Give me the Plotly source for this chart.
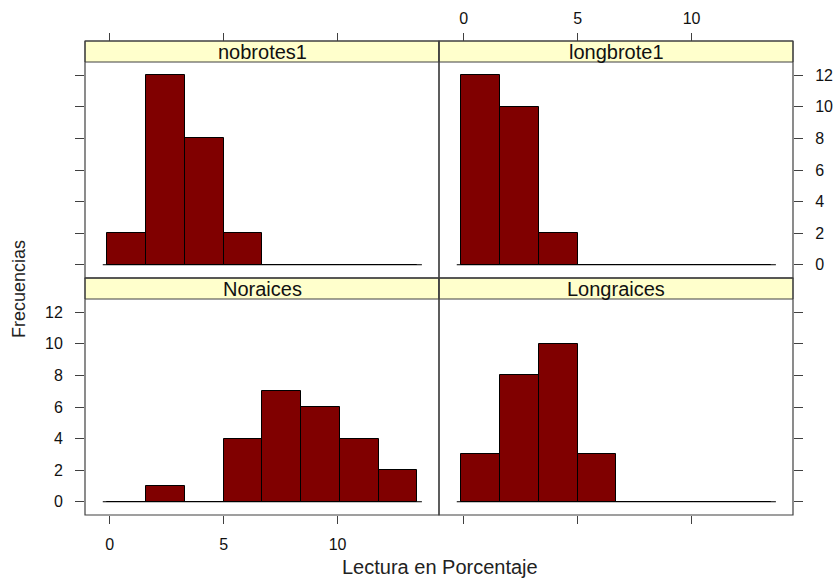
import plotly.graph_objects as go

# Histogram bins shared by all panels and the counts per bin
breaks = [-0.1, 1.6, 3.3, 5.0, 6.7, 8.4, 10.1, 11.8, 13.5]
panel_names = ["nobrotes1", "longbrote1", "Noraices", "Longraices"]
nobrotes1 = [2, 12, 8, 2, 0, 0, 0, 0]
longbrote1 = [12, 10, 2, 0, 0, 0, 0, 0]
noraices = [0, 1, 0, 4, 7, 6, 4, 2]
longraices = [3, 8, 10, 3, 0, 0, 0, 0]
counts = [nobrotes1, longbrote1, noraices, longraices]

x_ticks = [0, 5, 10]
y_ticks = [0, 2, 4, 6, 8, 10, 12]
x_range = [-1.08, 14.45]
y_range = [-0.84, 12.84]

# page geometry in pixels
W, H = 834, 580
cols = [(85, 439), (439, 793)]          # left, right of each panel column
rows = [(62, 278), (299, 515)]          # top, bottom of each panel row
strip_h = 21

BAR = "#800000"
STRIP = "#FFFFCC"
LINE = "#404040"
FONT = "Liberation Sans, Arial, sans-serif"


def px_x(p):
    return p / W


def px_y(p):
    return 1 - p / H


centers = [(a + b) / 2 for a, b in zip(breaks[:-1], breaks[1:])]
widths = [b - a for a, b in zip(breaks[:-1], breaks[1:])]
pad = 0.2

fig = go.Figure()
layout = {}
shapes = []
annotations = []

# panel order: top-left, top-right, bottom-left, bottom-right
for i, (name, vals) in enumerate(zip(panel_names, counts)):
    r, c = divmod(i, 2)
    ax = "" if i == 0 else str(i + 1)
    xa, ya = "x" + ax, "y" + ax

    fig.add_trace(go.Scatter(
        x=[breaks[0] - pad, breaks[-1] + pad], y=[0, 0], mode="lines",
        line=dict(color="black", width=1), xaxis=xa, yaxis=ya,
        showlegend=False, hoverinfo="skip"))
    fig.add_trace(go.Bar(
        x=centers, y=vals, width=widths, marker=dict(color=BAR, line=dict(color="black", width=1)),
        xaxis=xa, yaxis=ya, showlegend=False))

    x0, x1 = cols[c]
    y0, y1 = rows[r]
    xdom = [px_x(x0), px_x(x1)]
    ydom = [px_y(y1), px_y(y0)]

    tickfont = dict(family=FONT, size=16, color="#111111")
    xaxis = dict(domain=xdom, range=x_range, tickvals=x_ticks, ticks="outside",
                 ticklen=8, tickwidth=1, tickcolor=LINE, showgrid=False,
                 zeroline=False, showline=False, tickfont=tickfont)
    yaxis = dict(domain=ydom, range=y_range, tickvals=y_ticks, ticks="outside",
                 ticklen=9, tickwidth=1, tickcolor=LINE, showgrid=False,
                 zeroline=False, showline=False, tickfont=tickfont,
                 anchor=xa)
    if r == 0:
        # x ticks sit above the strip
        xaxis.update(anchor="free", position=px_y(y0 - strip_h), side="top",
                     showticklabels=(c == 1), ticklabelstandoff=3)
    else:
        xaxis.update(anchor=ya, side="bottom", showticklabels=(c == 0),
                     ticklabelstandoff=7)
    if c == 0:
        yaxis.update(side="left", showticklabels=(r == 1), ticklabelstandoff=9)
    else:
        yaxis.update(side="right", showticklabels=(r == 0), ticklabelstandoff=9)

    layout["xaxis" + ax] = xaxis
    layout["yaxis" + ax] = yaxis

    # strip
    shapes.append(dict(type="rect", xref="paper", yref="paper",
                       x0=px_x(x0), x1=px_x(x1), y0=px_y(y0), y1=px_y(y0 - strip_h),
                       fillcolor=STRIP, line=dict(color=LINE, width=1), layer="below"))
    annotations.append(dict(text=name, xref="paper", yref="paper",
                            x=(px_x(x0) + px_x(x1)) / 2, y=px_y(y0 - strip_h / 2 + 0.5),
                            showarrow=False, xanchor="center", yanchor="middle",
                            font=dict(family=FONT, size=20, color="#111111")))
    # panel border
    shapes.append(dict(type="rect", xref="paper", yref="paper",
                       x0=px_x(x0), x1=px_x(x1), y0=px_y(y1), y1=px_y(y0 - strip_h),
                       line=dict(color=LINE, width=1.2), fillcolor="rgba(0,0,0,0)"))

annotations.append(dict(text="Frecuencias", xref="paper", yref="paper",
                        x=px_x(19), y=px_y(289), textangle=-90, showarrow=False,
                        xanchor="center", yanchor="middle",
                        font=dict(family=FONT, size=18, color="#222222")))
annotations.append(dict(text="Lectura en Porcentaje", xref="paper", yref="paper",
                        x=px_x(440), y=px_y(567), showarrow=False,
                        xanchor="center", yanchor="middle",
                        font=dict(family=FONT, size=20, color="#222222")))

fig.update_layout(
    width=W, height=H, margin=dict(l=0, r=0, t=0, b=0),
    paper_bgcolor="white", plot_bgcolor="white",
    shapes=shapes, annotations=annotations, bargap=0,
    **layout)

fig.write_html("out.html")
